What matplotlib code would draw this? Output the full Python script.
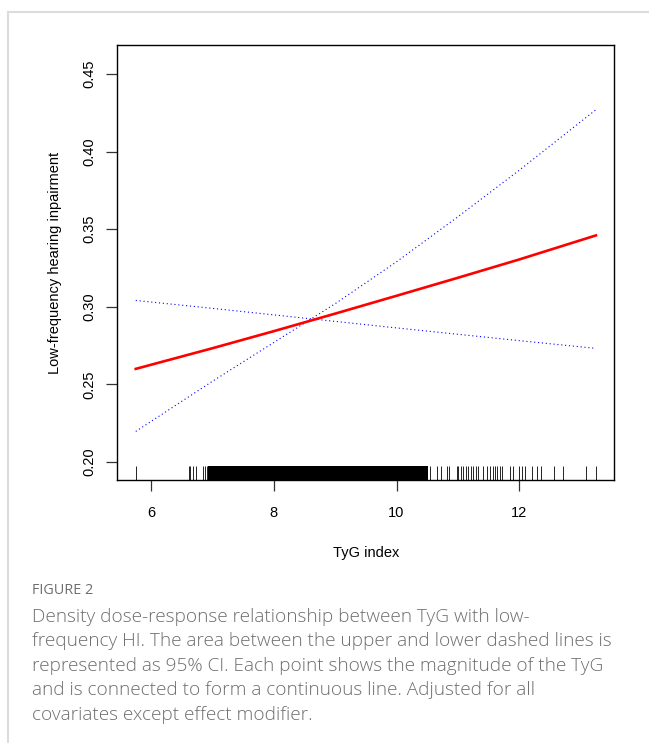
import numpy as np
import matplotlib
matplotlib.use("Agg")
import matplotlib.pyplot as plt
from matplotlib.transforms import blended_transform_factory

# fitted curve and 95% CI
tyg = [5.75, 7.0, 8.0, 9.0, 10.0, 11.0, 12.0, 13.25]
fit = [0.260, 0.2733, 0.2843, 0.2956, 0.3071, 0.3187, 0.3305, 0.346]
ci_a = [0.3041, 0.2990, 0.2948, 0.2906, 0.2864, 0.2823, 0.2782, 0.2732]
ci_b = [0.2197, 0.2520, 0.2770, 0.3020, 0.3290, 0.3580, 0.3880, 0.4270]

# rug: sparse observations plus the solid block in the middle
rug_sparse = [5.746, 6.615, 6.636, 6.675, 6.74, 6.848, 6.876, 6.913,
              10.544, 10.653, 10.718, 10.816, 10.859, 10.98, 11.006, 11.045,
              11.087, 11.126, 11.169, 11.208, 11.25, 11.294, 11.332, 11.413,
              11.469, 11.523, 11.576, 11.604, 11.642, 11.686, 11.723, 11.849,
              11.903, 12.0, 12.04, 12.093, 12.207, 12.283, 12.349, 12.571,
              12.708, 13.088, 13.246]
rug_dense = (6.93, 10.52)

xticks = [6, 8, 10, 12]
yticks = [0.20, 0.25, 0.30, 0.35, 0.40, 0.45]

caption_head = "FIGURE 2"
caption_lines = [
    "Density dose-response relationship between TyG with low-",
    "frequency HI. The area between the upper and lower dashed lines is",
    "represented as 95% CI. Each point shows the magnitude of the TyG",
    "and is connected to form a continuous line. Adjusted for all",
    "covariates except effect modifier.",
]

plt.rcParams['font.family'] = ['Liberation Sans', 'DejaVu Sans']

fig = plt.figure(figsize=(6.49, 7.43), dpi=100)
ax = fig.add_axes([0.181, 0.354, 0.765, 0.5854])

ax.plot(tyg, ci_a, color="blue", lw=0.8, linestyle=(0, (1, 2.5)))
ax.plot(tyg, ci_b, color="blue", lw=0.8, linestyle=(0, (1, 2.5)))
ax.plot(tyg, fit, color="red", lw=1.9)

tr = blended_transform_factory(ax.transData, ax.transAxes)
ax.vlines(rug_sparse, 0, 0.032, transform=tr, color="black", lw=0.6)
ax.fill_between(rug_dense, 0, 0.032, transform=tr, color="black", lw=0)

ax.set_xlim(5.452, 13.544)
ax.set_ylim(0.1884, 0.4687)
ax.set_xticks(xticks)
ax.set_xticklabels([str(t) for t in xticks])
ax.set_yticks(yticks)
ax.set_yticklabels(["%.2f" % t for t in yticks])
ax.tick_params(length=8, width=0.9, labelsize=10.5, color="#333333")
ax.tick_params(axis="x", pad=11)
ax.tick_params(axis="y", pad=7, labelrotation=90)
for lab in ax.get_yticklabels():
    lab.set_va("center")
for s in ax.spines.values():
    s.set_linewidth(1.0)

ax.set_xlabel("TyG index", fontsize=10.5)
ax.xaxis.set_label_coords(0.5, -0.168)
ax.xaxis.label.set_va("center")
ax.set_ylabel("Low-frequency hearing inpairment", fontsize=10.5)
ax.yaxis.set_label_coords(-0.126, 0.5)
ax.yaxis.label.set_va("center")

# page frame lines
fig.add_artist(plt.Line2D([8 / 649, 1], [1 - 12 / 743] * 2, color="#dcdcdc", lw=1.5))
fig.add_artist(plt.Line2D([8 / 649] * 2, [0, 1 - 12 / 743], color="#dcdcdc", lw=1.5))

fig.text(32 / 649, 1 - 590 / 743, caption_head, fontsize=10.4, color="#6e6e6e",
         family=["Open Sans", "DejaVu Sans"], va="center")
for i, line in enumerate(caption_lines):
    fig.text(32 / 649, 1 - (617 + 24.4 * i) / 743, line, fontsize=13.7, color="#6e6e6e",
             family=["Open Sans", "DejaVu Sans"], weight="light", va="center")

fig.savefig("out.png", dpi=100)
